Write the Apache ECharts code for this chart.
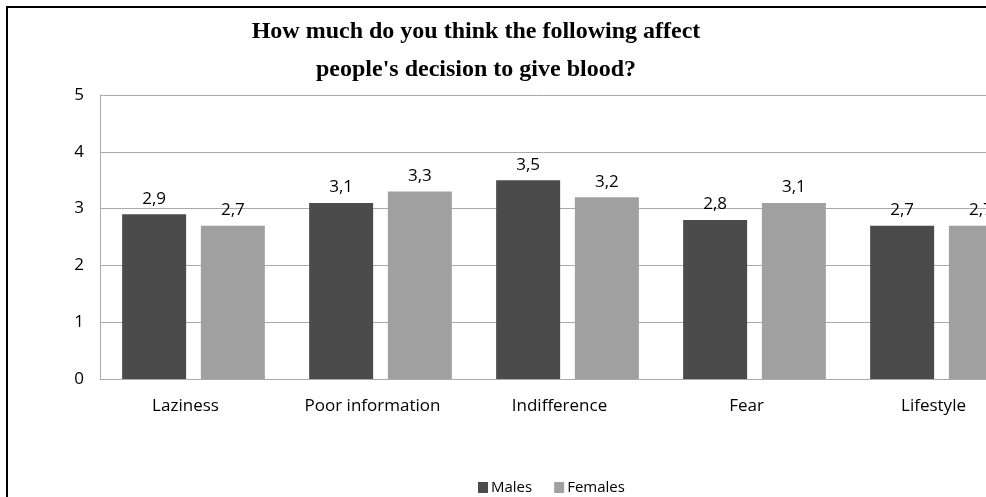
<!DOCTYPE html>
<html>
<head>
<meta charset="utf-8">
<script src="https://cdn.jsdelivr.net/npm/echarts@6/dist/echarts.min.js"></script>
<style>
  html, body { margin: 0; padding: 0; background: #fff; overflow: hidden; }
  #main { width: 986px; height: 497px; }
</style>
</head>
<body>
<div id="main"></div>
<script>
var categories = ['Laziness', 'Poor information', 'Indifference', 'Fear', 'Lifestyle'];
var males = [2.9, 3.1, 3.5, 2.8, 2.7];
var females = [2.7, 3.3, 3.2, 3.1, 2.7];

var myChart = echarts.init(document.getElementById('main'));

function commaLabel(p) {
  return String(p.value).replace('.', ',');
}

var labelStyle = {
  show: true,
  position: 'top',
  distance: 7,
  formatter: commaLabel,
  color: '#000',
  fontFamily: 'Open Sans',
  fontSize: 17
};

var option = {
  backgroundColor: '#fff',
  animation: false,
  title: {
    text: 'How much do you think the following affect\npeople\'s decision to give blood?',
    left: 471,
    top: 8,
    textAlign: 'center',
    textStyle: {
      fontFamily: 'Liberation Serif',
      fontWeight: 'bold',
      fontSize: 24,
      lineHeight: 38,
      color: '#000'
    }
  },
  legend: {
    data: ['Males', 'Females'],
    left: 473,
    top: 475,
    itemWidth: 10,
    itemHeight: 11,
    itemGap: 22,
    icon: 'rect',
    textStyle: { fontFamily: 'Open Sans', fontSize: 15, color: '#000', padding: [0, 0, 0, -2] }
  },
  grid: {
    left: 100,
    right: -49,
    top: 95,
    bottom: 118,
    containLabel: false,
    outerBoundsMode: 'none'
  },
  xAxis: {
    type: 'category',
    data: categories,
    axisTick: { show: false },
    axisLine: { lineStyle: { color: '#aaa', width: 1 } },
    axisLabel: {
      color: '#000',
      fontFamily: 'Open Sans',
      fontSize: 17,
      margin: 19,
      padding: [0, 16, 0, 0]
    }
  },
  yAxis: {
    type: 'value',
    min: 0,
    max: 5,
    interval: 1,
    axisLine: { show: true, lineStyle: { color: '#aaa', width: 1 } },
    axisTick: { show: false },
    splitLine: { lineStyle: { color: '#aaa', width: 1 } },
    axisLabel: {
      color: '#000',
      fontFamily: 'Open Sans',
      fontSize: 17,
      margin: 16
    }
  },
  series: [{
    name: 'Males',
    type: 'bar',
    data: males,
    barWidth: 64,
    barGap: '23%',
    itemStyle: { color: '#4b4b4b' },
    label: labelStyle
  }, {
    name: 'Females',
    type: 'bar',
    data: females,
    barWidth: 64,
    itemStyle: { color: '#a0a0a0' },
    label: labelStyle
  }],
  graphic: [{
    type: 'rect',
    shape: { x: 7, y: 7, width: 1100, height: 600 },
    style: { fill: 'none', stroke: '#000', lineWidth: 2 },
    silent: true
  }]
};

myChart.setOption(option);
</script>
</body>
</html>
